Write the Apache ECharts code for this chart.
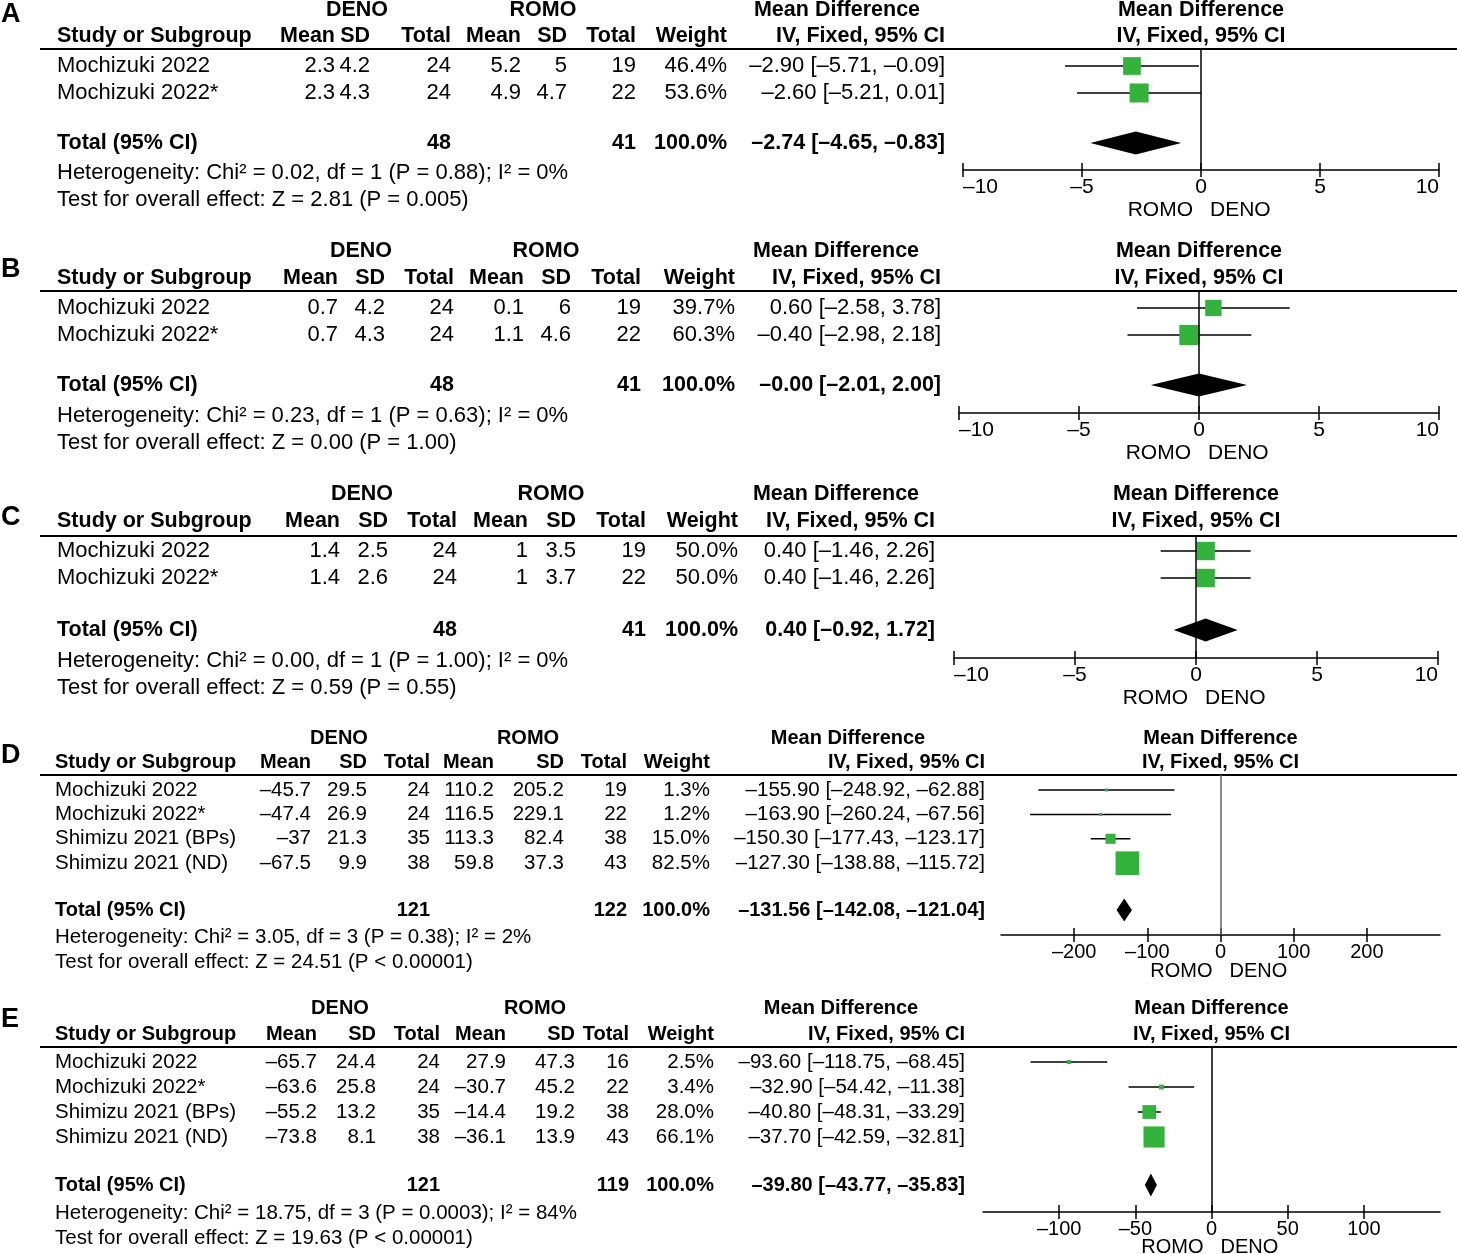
<!DOCTYPE html>
<html><head><meta charset="utf-8">
<script src="https://cdn.jsdelivr.net/npm/echarts@6/dist/echarts.min.js"></script>
<style>html,body{margin:0;padding:0;background:#fff}#c{width:1457px;height:1254px}</style>
</head><body><div id="c"></div>
<script>
// ---------------- DATA ----------------
const namesAC = ['Mochizuki 2022', 'Mochizuki 2022*'];
const namesDE = ['Mochizuki 2022', 'Mochizuki 2022*', 'Shimizu 2021 (BPs)', 'Shimizu 2021 (ND)'];
// row: DENO mean, DENO SD, DENO n, ROMO mean, ROMO SD, ROMO n, weight %, MD, lower, upper
const rowsA = [[2.3, 4.2, 24, 5.2, 5, 19, 46.4, -2.90, -5.71, -0.09],
               [2.3, 4.3, 24, 4.9, 4.7, 22, 53.6, -2.60, -5.21, 0.01]];
const rowsB = [[0.7, 4.2, 24, 0.1, 6, 19, 39.7, 0.60, -2.58, 3.78],
               [0.7, 4.3, 24, 1.1, 4.6, 22, 60.3, -0.40, -2.98, 2.18]];
const rowsC = [[1.4, 2.5, 24, 1, 3.5, 19, 50.0, 0.40, -1.46, 2.26],
               [1.4, 2.6, 24, 1, 3.7, 22, 50.0, 0.40, -1.46, 2.26]];
const rowsD = [[-45.7, 29.5, 24, 110.2, 205.2, 19, 1.3, -155.90, -248.92, -62.88],
               [-47.4, 26.9, 24, 116.5, 229.1, 22, 1.2, -163.90, -260.24, -67.56],
               [-37, 21.3, 35, 113.3, 82.4, 38, 15.0, -150.30, -177.43, -123.17],
               [-67.5, 9.9, 38, 59.8, 37.3, 43, 82.5, -127.30, -138.88, -115.72]];
const rowsE = [[-65.7, 24.4, 24, 27.9, 47.3, 16, 2.5, -93.60, -118.75, -68.45],
               [-63.6, 25.8, 24, -30.7, 45.2, 22, 3.4, -32.90, -54.42, -11.38],
               [-55.2, 13.2, 35, -14.4, 19.2, 38, 28.0, -40.80, -48.31, -33.29],
               [-73.8, 8.1, 38, -36.1, 13.9, 43, 66.1, -37.70, -42.59, -32.81]];
// total: DENO n, ROMO n, weight, MD, lower, upper
const totalA = [48, 41, 100.0, -2.74, -4.65, -0.83];
const totalB = [48, 41, 100.0, -0.00, -2.01, 2.00];
const totalC = [48, 41, 100.0, 0.40, -0.92, 1.72];
const totalD = [121, 122, 100.0, -131.56, -142.08, -121.04];
const totalE = [121, 119, 100.0, -39.80, -43.77, -35.83];
// heterogeneity: Chi2, df, P, I2 ; overall effect: Z, P
const hetA = ['0.02', '1', '= 0.88', '0'];   const testA = ['2.81', '= 0.005'];
const hetB = ['0.23', '1', '= 0.63', '0'];   const testB = ['0.00', '= 1.00'];
const hetC = ['0.00', '1', '= 1.00', '0'];   const testC = ['0.59', '= 0.55'];
const hetD = ['3.05', '3', '= 0.38', '2'];   const testD = ['24.51', '< 0.00001'];
const hetE = ['18.75', '3', '= 0.0003', '84']; const testE = ['19.63', '< 0.00001'];
// axis ranges and tick labels
const axisA = [-10, 10, 5, [-10, -5, 0, 5, 10]];
const axisB = [-10, 10, 5, [-10, -5, 0, 5, 10]];
const axisC = [-10, 10, 5, [-10, -5, 0, 5, 10]];
const axisD = [-300, 300, 100, [-200, -100, 0, 100, 200]];
const axisE = [-150, 150, 50, [-100, -50, 0, 50, 100]];
const panelLetters = ['A', 'B', 'C', 'D', 'E'];
const groupNames = ['DENO', 'ROMO'];
const colHeads = ['Mean', 'SD', 'Total', 'Mean', 'SD', 'Total', 'Weight', 'IV, Fixed, 95% CI'];

// ---------------- LAYOUT ----------------
const layouts = [
  {letterY: 15, groupY: 10, headY: 36, lineY: 49, rowY: 66, pitch: 27, totalY: 143, hetY: 173, testY: 200, axisY: 170, sideY: 210, endAlign: true,
   xl: 963, xr: 1439, cols: [335, 370, 451, 521, 567, 636, 727, 945], study: 57, deno: 357, romo: 543, mdL: 837, fs: 22, fb: 21.5, afs: 21, zc: '#000'},
  {letterY: 270, groupY: 251, headY: 278, lineY: 291, rowY: 308, pitch: 27, totalY: 385, hetY: 416, testY: 443, axisY: 413, sideY: 453, endAlign: true,
   xl: 959, xr: 1439, cols: [338, 385, 454, 524, 571, 641, 735, 941], study: 57, deno: 361, romo: 546, mdL: 836, fs: 22, fb: 21.5, afs: 21, zc: '#000'},
  {letterY: 518, groupY: 494, headY: 521, lineY: 536, rowY: 551, pitch: 27, totalY: 630, hetY: 661, testY: 688, axisY: 658, sideY: 698, endAlign: true,
   xl: 954, xr: 1438, cols: [340, 388, 457, 528, 576, 646, 738, 935], study: 57, deno: 362, romo: 551, mdL: 836, fs: 22, fb: 21.5, afs: 21, zc: '#000'},
  {letterY: 756, groupY: 738, headY: 762, lineY: 775, rowY: 790, pitch: 24.4, totalY: 910, hetY: 937, testY: 962, axisY: 935, sideY: 971, endAlign: false,
   xl: 1001, xr: 1440, cols: [311, 367, 430, 494, 564, 627, 710, 985], study: 55, deno: 339, romo: 528, mdL: 848, fs: 20.5, fb: 20, afs: 20, zc: '#666'},
  {letterY: 1020, groupY: 1008, headY: 1034, lineY: 1047, rowY: 1062, pitch: 25, totalY: 1185, hetY: 1213, testY: 1238, axisY: 1212, sideY: 1247, endAlign: false,
   xl: 983, xr: 1440, cols: [317, 376, 440, 506, 575, 629, 714, 965], study: 55, deno: 340, romo: 535, mdL: 841, fs: 20.5, fb: 20, afs: 20, zc: '#000'}
];
const panelData = [
  {names: namesAC, rows: rowsA, total: totalA, het: hetA, test: testA, axis: axisA},
  {names: namesAC, rows: rowsB, total: totalB, het: hetB, test: testB, axis: axisB},
  {names: namesAC, rows: rowsC, total: totalC, het: hetC, test: testC, axis: axisC},
  {names: namesDE, rows: rowsD, total: totalD, het: hetD, test: testD, axis: axisD},
  {names: namesDE, rows: rowsE, total: totalE, het: hetE, test: testE, axis: axisE}
];

const FONT = '"Liberation Sans", Arial, sans-serif';
const GREEN = '#33b33c';
const DASH = '\u2013';
function fmtNum(v) { return (v < 0 ? DASH : '') + String(Math.abs(v)); }
function fmt2(v) { const neg = v < 0 || Object.is(v, -0); return (neg ? DASH : '') + Math.abs(v).toFixed(2); }
function ciText(md, lo, hi) { return fmt2(md) + ' [' + fmt2(lo) + ', ' + fmt2(hi) + ']'; }

const graphics = [];
function txt(s, x, y, size, bold, align) {
  graphics.push({type: 'text', silent: true, z: 10, style: {
    text: s, x: x, y: y, fill: '#000',
    font: (bold ? 'bold ' : '') + size + 'px ' + FONT,
    textAlign: align || 'left', textVerticalAlign: 'middle', align: align || 'left', verticalAlign: 'middle'}});
}

const grids = [], xAxes = [], yAxes = [], series = [];

panelData.forEach((pd, p) => {
  const L = layouts[p];
  const [amin, amax, aint, tickVals] = pd.axis;
  const zeroX = L.xl + (L.xr - L.xl) * (0 - amin) / (amax - amin);
  // ---- table texts ----
  txt(panelLetters[p], 1, L.letterY, 27, true, 'left');
  txt(groupNames[0], L.deno, L.groupY, L.fb, true, 'center');
  txt(groupNames[1], L.romo, L.groupY, L.fb, true, 'center');
  txt('Mean Difference', L.mdL, L.groupY, L.fb, true, 'center');
  txt('Mean Difference', zeroX, L.groupY, L.fb, true, 'center');
  txt('Study or Subgroup', L.study, L.headY, L.fb, true, 'left');
  colHeads.forEach((h, c) => txt(h, L.cols[c], L.headY, L.fb, true, 'right'));
  txt(colHeads[7], zeroX, L.headY, L.fb, true, 'center');
  graphics.push({type: 'line', silent: true, shape: {x1: 40, y1: L.lineY, x2: 1457, y2: L.lineY}, style: {stroke: '#000', lineWidth: 2}});
  pd.rows.forEach((r, i) => {
    const y = L.rowY + i * L.pitch;
    txt(pd.names[i], L.study, y, L.fs, false, 'left');
    for (let c = 0; c < 6; c++) txt(fmtNum(r[c]), L.cols[c], y, L.fs, false, 'right');
    txt(r[6].toFixed(1) + '%', L.cols[6], y, L.fs, false, 'right');
    txt(ciText(r[7], r[8], r[9]), L.cols[7], y, L.fs, false, 'right');
  });
  const t = pd.total;
  txt('Total (95% CI)', L.study, L.totalY, L.fb, true, 'left');
  txt(String(t[0]), L.cols[2], L.totalY, L.fb, true, 'right');
  txt(String(t[1]), L.cols[5], L.totalY, L.fb, true, 'right');
  txt(t[2].toFixed(1) + '%', L.cols[6], L.totalY, L.fb, true, 'right');
  txt(ciText(t[3], t[4], t[5]), L.cols[7], L.totalY, L.fb, true, 'right');
  const h = pd.het;
  txt('Heterogeneity: Chi\u00b2 = ' + h[0] + ', df = ' + h[1] + ' (P ' + h[2] + '); I\u00b2 = ' + h[3] + '%', L.study, L.hetY, L.fs, false, 'left');
  txt('Test for overall effect: Z = ' + pd.test[0] + ' (P ' + pd.test[1] + ')', L.study, L.testY, L.fs, false, 'left');
  txt('ROMO', zeroX - 8, L.sideY, L.afs, false, 'right');
  txt('DENO', zeroX + 9, L.sideY, L.afs, false, 'left');

  // ---- forest plot: main grid (2p) and an identical grid (2p+1) that carries the upward tick marks ----
  const rect = {left: L.xl, width: L.xr - L.xl, top: L.lineY, height: L.axisY - L.lineY, containLabel: false};
  grids.push(Object.assign({}, rect), Object.assign({}, rect));
  const base = {type: 'value', min: amin, max: amax, interval: aint, position: 'bottom', splitLine: {show: false}};
  xAxes.push(Object.assign({gridIndex: 2 * p}, base, {
    axisLine: {show: true, onZero: false, lineStyle: {color: '#000', width: 1.5}},
    axisTick: {show: true, inside: false, length: 7, lineStyle: {color: '#000', width: 1.5}, customValues: tickVals},
    axisLabel: {show: true, margin: 7, color: '#000', fontSize: L.afs, fontFamily: FONT, customValues: tickVals,
      alignMinLabel: L.endAlign ? 'left' : 'center', alignMaxLabel: L.endAlign ? 'right' : 'center',
      formatter: v => (v < 0 ? DASH + Math.abs(v) : String(v))}
  }));
  xAxes.push(Object.assign({gridIndex: 2 * p + 1}, base, {
    axisLine: {show: false, onZero: false},
    axisTick: {show: true, inside: true, length: 7, lineStyle: {color: '#000', width: 1.5}, customValues: tickVals},
    axisLabel: {show: false}
  }));
  const yMin = (L.lineY - L.rowY) / L.pitch, yMax = (L.axisY - L.rowY) / L.pitch;
  const totalPos = (L.totalY - L.rowY) / L.pitch;
  yAxes.push({gridIndex: 2 * p, type: 'value', inverse: true, min: yMin, max: yMax, show: false});
  yAxes.push({gridIndex: 2 * p + 1, type: 'value', inverse: true, min: yMin, max: yMax, show: false});
  const xi = 2 * p, yi = 2 * p;
  series.push({
    type: 'custom', xAxisIndex: xi, yAxisIndex: yi, z: 2, silent: true,
    data: pd.rows.map((r, i) => [r[8], r[9], i]),
    encode: {x: [0, 1], y: 2},
    renderItem: (params, api) => {
      const a = api.coord([api.value(0), api.value(2)]);
      const b = api.coord([api.value(1), api.value(2)]);
      return {type: 'line', shape: {x1: a[0], y1: a[1], x2: b[0], y2: b[1]}, style: {stroke: '#000', lineWidth: 1.5}};
    },
    markLine: {silent: true, symbol: ['none', 'none'], label: {show: false},
      lineStyle: {color: L.zc, width: 1.5, type: 'solid'}, data: [{xAxis: 0}]}
  });
  series.push({
    type: 'scatter', xAxisIndex: xi, yAxisIndex: yi, z: 3, silent: true,
    symbol: 'rect',
    symbolSize: v => Math.max(3, 2.6 * Math.sqrt(v[2])),
    itemStyle: {color: GREEN, opacity: 1},
    data: pd.rows.map((r, i) => [r[7], i, r[6]])
  });
  series.push({
    type: 'custom', xAxisIndex: xi, yAxisIndex: yi, z: 3, silent: true,
    data: [[t[3], t[4], t[5], totalPos]],
    encode: {x: [0, 1, 2], y: 3},
    renderItem: (params, api) => {
      const y = api.value(3);
      const c = api.coord([api.value(0), y]);
      const l = api.coord([api.value(1), y]);
      const r = api.coord([api.value(2), y]);
      const hh = 11.5;
      return {type: 'polygon', shape: {points: [[l[0], c[1]], [c[0], c[1] - hh], [r[0], c[1]], [c[0], c[1] + hh]]},
        style: {fill: '#000'}};
    }
  });
});

const chart = echarts.init(document.getElementById('c'), null, {renderer: 'canvas'});
chart.setOption({
  animation: false,
  backgroundColor: '#fff',
  grid: grids, xAxis: xAxes, yAxis: yAxes, series: series,
  graphic: {elements: graphics}
});
</script>
</body></html>
